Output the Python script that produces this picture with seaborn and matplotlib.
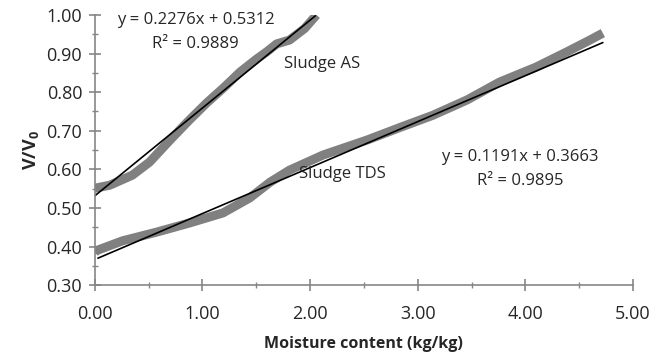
import matplotlib
matplotlib.use("Agg")
import matplotlib.pyplot as plt
import seaborn as sns
import numpy as np
import pandas as pd
from matplotlib.ticker import MultipleLocator, FormatStrFormatter

# Data
as_x = [0.00, 0.14, 0.35, 0.51, 0.70, 0.88, 1.04, 1.20, 1.35, 1.50, 1.60, 1.69, 1.81, 1.95, 2.06]
as_y = [0.551, 0.559, 0.585, 0.619, 0.676, 0.728, 0.772, 0.812, 0.852, 0.885, 0.905, 0.925, 0.935, 0.965, 1.000]

tds_x = [0.00, 0.02, 0.26, 0.57, 0.88, 1.19, 1.44, 1.63, 1.81, 2.12, 2.53, 2.85, 3.14, 3.46, 3.76, 4.10, 4.39, 4.60, 4.72]
tds_y = [0.385, 0.390, 0.415, 0.437, 0.461, 0.487, 0.526, 0.567, 0.598, 0.637, 0.676, 0.710, 0.740, 0.780, 0.826, 0.865, 0.905, 0.935, 0.953]

as_slope, as_icpt, as_r2 = 0.2276, 0.5312, 0.9889
tds_slope, tds_icpt, tds_r2 = 0.1191, 0.3663, 0.9895
as_fit_range = [0.0, 2.05]
tds_fit_range = [0.03, 4.72]

sns.set_style("white")
plt.rcParams['font.family'] = ['Open Sans', 'DejaVu Sans']

fig = plt.figure(figsize=(6.67, 3.56), dpi=100)
ax = fig.add_axes([0.142, 0.199, 0.807, 0.759])

df_as = pd.DataFrame({"x": as_x, "y": as_y})
df_tds = pd.DataFrame({"x": tds_x, "y": tds_y})
gray = "#808080"
sns.lineplot(data=df_as, x="x", y="y", ax=ax, color=gray, lw=6.5, sort=False, solid_capstyle="butt")
sns.lineplot(data=df_tds, x="x", y="y", ax=ax, color=gray, lw=6.5, sort=False, solid_capstyle="butt")

fx = np.array(as_fit_range)
fit_as = pd.DataFrame({"x": fx, "y": as_slope * fx + as_icpt})
fx2 = np.array(tds_fit_range)
fit_tds = pd.DataFrame({"x": fx2, "y": tds_slope * fx2 + tds_icpt})
sns.lineplot(data=fit_as, x="x", y="y", ax=ax, color="black", lw=1.2)
sns.lineplot(data=fit_tds, x="x", y="y", ax=ax, color="black", lw=1.2)

ax.set_xlim(0, 5)
ax.set_ylim(0.3, 1.0)
ax.xaxis.set_major_locator(MultipleLocator(1))
ax.xaxis.set_minor_locator(MultipleLocator(0.5))
ax.yaxis.set_major_locator(MultipleLocator(0.1))
ax.yaxis.set_minor_locator(MultipleLocator(0.05))
ax.xaxis.set_major_formatter(FormatStrFormatter("%.2f"))
ax.yaxis.set_major_formatter(FormatStrFormatter("%.2f"))
for s in ["top", "right"]:
    ax.spines[s].set_visible(False)
for s in ["left", "bottom"]:
    ax.spines[s].set_color("#868686")
    ax.spines[s].set_linewidth(1.2)
ax.tick_params(which="major", direction="inout", length=8, width=1.2, color="#868686", labelsize=13)
ax.tick_params(axis="x", which="major", pad=10)
ax.tick_params(axis="y", which="major", pad=5)
ax.tick_params(which="minor", direction="inout", length=5, width=1.0, color="#868686")
ax.tick_params(axis="both", which="both", bottom=True, left=True)

ax.set_xlabel("Moisture content (kg/kg)", fontsize=11.5, fontweight="bold", labelpad=10)
ax.set_ylabel("V/V$_\\mathregular{0}$", fontsize=13, fontweight="bold", labelpad=4)

fs = 12
ax.text(0.935, 0.988, f"y = {as_slope}x + {as_icpt}", fontsize=fs, ha="center", va="center")
ax.text(0.935, 0.924, f"R² = {as_r2}", fontsize=fs, ha="center", va="center")
ax.text(1.76, 0.874, "Sludge AS", fontsize=fs, ha="left", va="center")
ax.text(1.90, 0.588, "Sludge TDS", fontsize=fs, ha="left", va="center")
ax.text(3.95, 0.632, f"y = {tds_slope}x + {tds_icpt}", fontsize=fs, ha="center", va="center")
ax.text(3.95, 0.569, f"R² = {tds_r2}", fontsize=fs, ha="center", va="center")

fig.savefig("out.png", dpi=100)
